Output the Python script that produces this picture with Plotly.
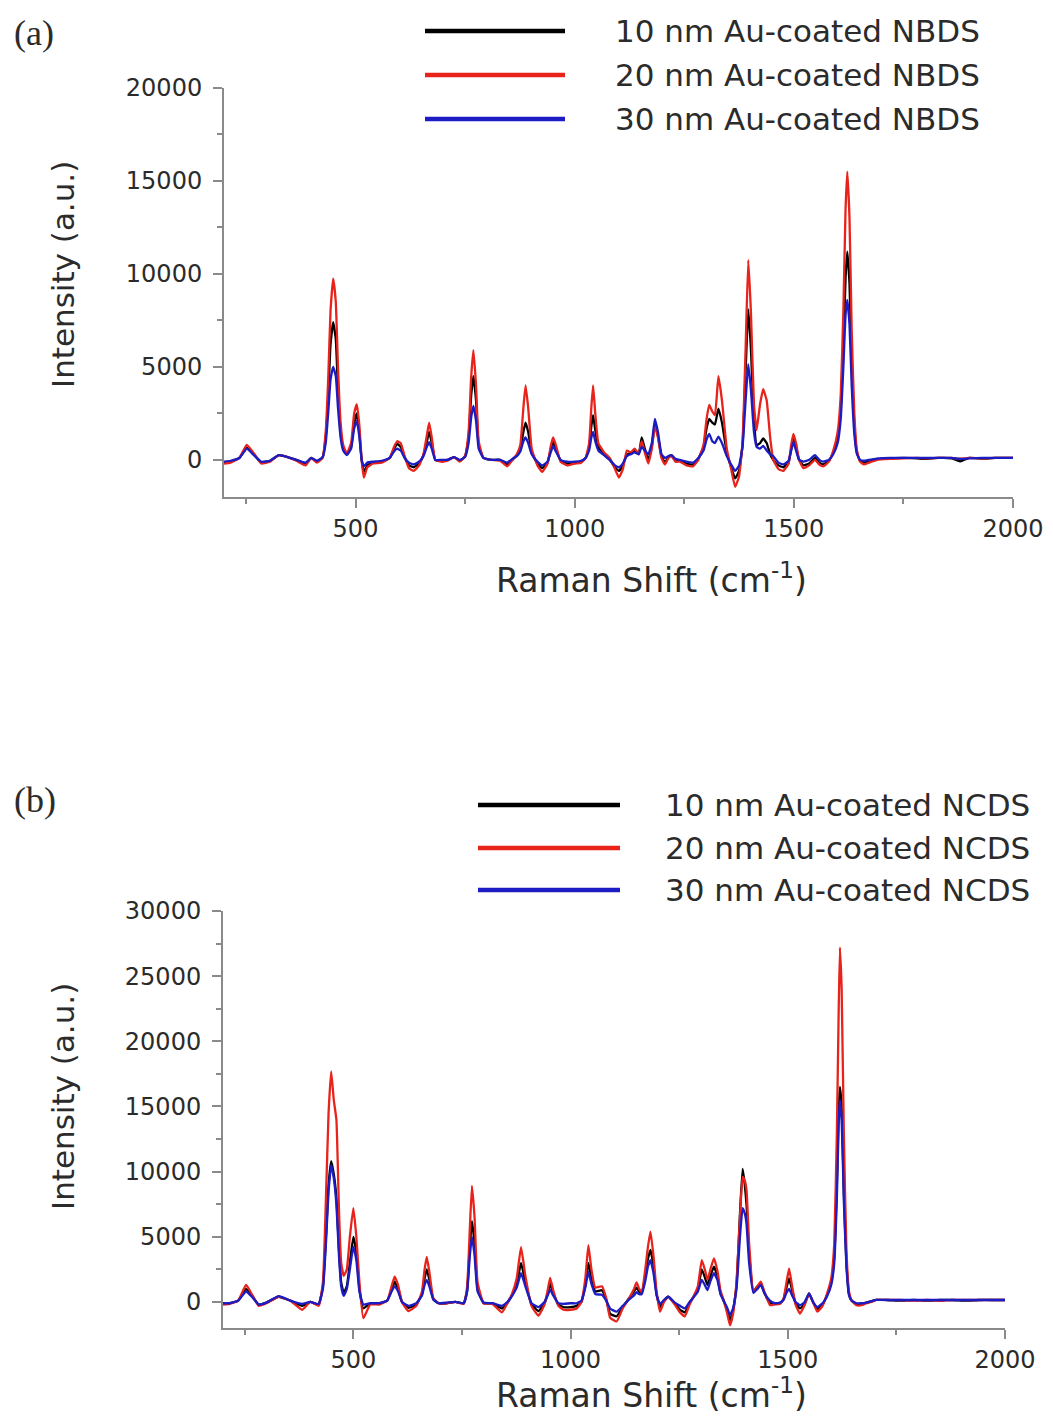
import plotly.graph_objects as go

# ---------------- Panel (a): Au-coated NBDS ----------------
shift_a = [200, 215, 235, 252, 268, 285, 305, 325, 345, 365,
           386, 399, 412, 425, 432, 438, 443, 449, 455, 460,
           466, 472, 480, 490, 497, 503, 509, 514, 519, 527,
           540, 560, 578, 588, 595, 603, 612, 622, 633, 645,
           655, 662, 668, 674, 682, 695, 710, 725, 738, 750,
           758, 764, 769, 775, 781, 792, 810, 830, 846, 858,
           868, 876, 883, 888, 894, 902, 915, 926, 938, 946,
           951, 957, 968, 983, 1000, 1015, 1025, 1033, 1038, 1042,
           1047, 1054, 1067, 1080, 1092, 1101, 1110, 1119, 1128, 1137,
           1146, 1153, 1160, 1168, 1176, 1183, 1190, 1198, 1206, 1214,
           1221, 1230, 1240, 1255, 1270, 1282, 1294, 1301, 1307, 1314,
           1320, 1328, 1336, 1347, 1357, 1366, 1375, 1383, 1390, 1396,
           1402, 1409, 1415, 1423, 1430, 1438, 1446, 1453, 1465, 1476,
           1488, 1494, 1499, 1505, 1512, 1522, 1535, 1548, 1558, 1567,
           1580, 1590, 1600, 1607, 1613, 1618, 1622, 1627, 1632, 1638,
           1644, 1651, 1660, 1672, 1690, 1720, 1750, 1780, 1800, 1830,
           1860, 1880, 1900, 1930, 1960, 2000]

nbds_10nm = [-150, -100, 100, 650, 300, -150, -50, 250, 150, 0,
             -200, 100, -100, 150, 1200, 3500, 6200, 7400, 6500, 3800,
             1500, 600, 300, 700, 2000, 2500, 1400, 0, -650, -300,
             -150, -100, 100, 600, 850, 700, 150, -300, -400, -200,
             250, 900, 1500, 900, 0, -50, 0, 150, -50, 200,
             1200, 3500, 4500, 3200, 800, 100, 0, 0, -250, 0,
             250, 600, 1500, 2000, 1500, 400, -200, -450, -150, 600,
             950, 600, -50, -200, -150, -100, 100, 700, 1800, 2400,
             1600, 700, 300, 0, -400, -600, -300, 300, 350, 500,
             300, 1200, 600, 0, 700, 1900, 1300, 200, -150, 150,
             250, 0, -50, -200, -250, 50, 700, 1700, 2200, 2000,
             1900, 2750, 2000, 400, -400, -1000, -600, 800, 4800, 8100,
             6000, 2200, 800, 900, 1150, 900, 300, 0, -300, -400,
             -150, 600, 1200, 700, 0, -300, -200, 100, -150, -250,
             -50, 400, 1200, 2800, 6000, 9800, 11200, 9500, 5200, 1800,
             400, -50, -150, -50, 50, 80, 100, 80, 50, 100,
             80, -80, 100, 60, 100, 100]

nbds_20nm = [-200, -150, 100, 800, 350, -200, -100, 250, 150, -50,
             -300, 100, -150, 100, 1500, 4500, 8000, 9750, 8500, 5000,
             2000, 800, 350, 900, 2500, 3000, 1800, 0, -950, -400,
             -200, -150, 100, 700, 1000, 900, 200, -450, -600, -300,
             300, 1200, 2000, 1200, 0, -100, -50, 150, -100, 200,
             1500, 4500, 5900, 4000, 1000, 100, 0, -50, -350, 0,
             300, 800, 2800, 4000, 2800, 600, -300, -650, -200, 800,
             1200, 800, -100, -300, -200, -150, 100, 900, 2800, 4000,
             2500, 900, 400, 100, -500, -950, -500, 500, 400, 600,
             300, 1000, 400, -200, 600, 1800, 1200, 100, -250, 100,
             200, -100, -100, -300, -350, 0, 800, 2200, 2950, 2600,
             2400, 4500, 3200, 600, -500, -1450, -900, 1000, 6000, 10750,
             8000, 3000, 1600, 3000, 3800, 3200, 1200, 0, -500, -600,
             -200, 800, 1400, 900, 0, -450, -300, 0, -250, -350,
             -100, 500, 1500, 3500, 8000, 13500, 15500, 13000, 7000, 2500,
             500, -100, -250, -150, 0, 50, 80, 100, 80, 100,
             100, 60, 100, 80, 100, 100]

nbds_30nm = [-100, -50, 100, 600, 250, -100, -50, 250, 150, 0,
             -150, 100, -50, 150, 900, 2600, 4300, 5000, 4500, 2800,
             1200, 500, 250, 600, 1700, 2100, 1200, 0, -350, -150,
             -100, -50, 100, 450, 600, 500, 100, -150, -250, -100,
             200, 650, 950, 600, 0, 0, 0, 150, 0, 150,
             900, 2300, 2900, 2100, 600, 100, 0, 0, -150, 50,
             200, 450, 1000, 1200, 900, 300, -100, -300, -100, 450,
             750, 450, 0, -100, -100, -50, 100, 500, 1200, 1500,
             1000, 500, 250, 0, -300, -400, -200, 200, 300, 400,
             300, 700, 500, 300, 900, 2200, 1500, 300, 100, 200,
             250, 50, 0, -100, -150, 100, 500, 1100, 1400, 1000,
             900, 1250, 900, 200, -250, -600, -300, 700, 3200, 5150,
             3800, 1500, 700, 600, 750, 500, 300, 200, -150, -250,
             -50, 500, 950, 500, 0, -100, 0, 250, 0, -100,
             0, 300, 900, 2200, 5000, 7800, 8600, 7300, 4000, 1400,
             300, 0, -50, 0, 60, 100, 100, 100, 100, 100,
             100, 50, 80, 100, 100, 100]

# ---------------- Panel (b): Au-coated NCDS ----------------
shift_b = [200, 215, 235, 253, 268, 282, 300, 328, 355, 382,
           401, 420, 430, 437, 443, 449, 455, 461, 467, 472,
           478, 485, 492, 500, 507, 514, 523, 539, 560, 578,
           588, 595, 603, 612, 627, 645, 658, 664, 669, 675,
           684, 696, 715, 735, 754, 762, 768, 773, 779, 786,
           800, 820, 842, 856, 865, 876, 886, 896, 910, 926,
           940, 948, 953, 960, 972, 984, 1000, 1014, 1025, 1034,
           1041, 1048, 1057, 1072, 1082, 1091, 1106, 1120, 1135, 1146,
           1152, 1158, 1164, 1172, 1178, 1184, 1191, 1198, 1206, 1215,
           1225, 1240, 1252, 1263, 1274, 1283, 1293, 1302, 1309, 1315,
           1322, 1330, 1338, 1345, 1352, 1360, 1367, 1374, 1382, 1390,
           1396, 1401, 1405, 1411, 1421, 1430, 1438, 1446, 1459, 1470,
           1482, 1490, 1497, 1503, 1510, 1518, 1528, 1538, 1549, 1558,
           1568, 1580, 1590, 1600, 1607, 1613, 1617, 1620, 1624, 1629,
           1635, 1641, 1647, 1658, 1670, 1681, 1692, 1704, 1730, 1760,
           1790, 1820, 1850, 1880, 1910, 1940, 1970, 2000]

ncds_10nm = [-150, -100, 100, 1000, 400, -200, -50, 400, 100, -300,
             0, -200, 1200, 5000, 9000, 10800, 9800, 8000, 4000, 1500,
             700, 1200, 3000, 5000, 3800, 1000, -500, -100, -100, 100,
             900, 1550, 1000, 0, -450, -200, 600, 1800, 2500, 1700,
             200, -100, -100, 0, -100, 900, 4200, 6200, 4500, 1000,
             -100, -100, -500, 0, 500, 1300, 3000, 1500, -150, -700,
             -100, 700, 1400, 700, -200, -400, -400, -300, 0, 1300,
             3000, 1800, 800, 900, 200, -900, -1100, -400, 300, 800,
             1100, 800, 700, 2000, 3300, 4000, 2700, 600, -400, 100,
             400, -100, -600, -800, -100, 400, 1000, 2500, 1900, 1300,
             2000, 2700, 2000, 700, 150, -600, -1400, -700, 1300, 6800,
             10200, 9000, 7500, 3800, 800, 1200, 1400, 700, -100, -150,
             -100, 200, 1100, 1800, 900, -100, -500, -200, 650, 0,
             -550, -200, 500, 1500, 3500, 9000, 14500, 16500, 15000, 8500,
             3000, 600, 100, -150, -150, -50, 50, 150, 150, 100,
             150, 100, 150, 150, 100, 150, 150, 150]

ncds_20nm = [-200, -150, 100, 1300, 500, -300, -100, 400, 100, -600,
             0, -300, 1500, 8000, 14500, 17700, 15500, 14000, 7000, 3000,
             2000, 2500, 5000, 7200, 5000, 1500, -1250, -200, -200, 100,
             1200, 1950, 1300, 0, -700, -300, 800, 2500, 3450, 2300,
             300, -100, -100, 0, -150, 1200, 5500, 8900, 6500, 1500,
             -100, -150, -800, 0, 600, 1800, 4200, 2000, -300, -1050,
             -200, 1000, 1850, 900, -300, -600, -600, -500, 0, 1800,
             4350, 2500, 1100, 1200, 300, -1200, -1500, -500, 300, 1000,
             1500, 1000, 750, 2500, 4200, 5400, 3500, 800, -750, 0,
             400, -200, -800, -1100, -200, 400, 1200, 3200, 2500, 1700,
             2500, 3350, 2400, 900, 150, -800, -1800, -900, 1500, 6500,
             9600, 9300, 8600, 4500, 800, 1200, 1550, 800, -250, -200,
             -150, 200, 1500, 2550, 1200, -200, -900, -300, 650, 0,
             -750, -300, 600, 1800, 4500, 13000, 22000, 27200, 24000, 13000,
             4000, 800, 100, -250, -250, -100, 0, 150, 150, 150,
             100, 150, 80, 150, 150, 150, 150, 150]

ncds_30nm = [-100, -100, 100, 800, 350, -200, -50, 450, 100, -150,
             0, -150, 1000, 4500, 8500, 10500, 9500, 7500, 3500, 1200,
             460, 1000, 2500, 4250, 3200, 800, -200, -100, -100, 100,
             800, 1200, 800, 0, -300, -100, 500, 1300, 1700, 1200,
             200, -100, -50, 0, -100, 800, 3500, 5000, 3600, 800,
             -50, -100, -300, 50, 450, 1100, 2200, 1200, -100, -400,
             0, 550, 950, 500, -100, -150, -100, -100, 100, 1100,
             2300, 1400, 600, 550, 100, -500, -750, -300, 200, 500,
             750, 600, 600, 1600, 2700, 3200, 2200, 500, -150, 150,
             400, -50, -300, -500, 0, 350, 800, 1700, 1300, 900,
             1600, 2200, 1700, 600, 100, -400, -1000, -500, 1000, 5000,
             7200, 6800, 6000, 3000, 700, 1000, 1300, 700, 100, -100,
             -50, 150, 700, 1000, 500, 0, -250, -50, 650, 0,
             -400, -100, 400, 1300, 3000, 8000, 13500, 15500, 14000, 7800,
             2700, 500, 100, -100, -100, -50, 50, 150, 150, 150,
             150, 150, 150, 150, 150, 150, 150, 150]

labels_a = ["10 nm Au-coated NBDS", "20 nm Au-coated NBDS", "30 nm Au-coated NBDS"]
labels_b = ["10 nm Au-coated NCDS", "20 nm Au-coated NCDS", "30 nm Au-coated NCDS"]
colors = ["#000000", "#e8231b", "#1c1cc4"]

for s in (nbds_10nm, nbds_20nm, nbds_30nm):
    assert len(s) == len(shift_a)
for s in (ncds_10nm, ncds_20nm, ncds_30nm):
    assert len(s) == len(shift_b)

W, H = 1053, 1419
FONT = "DejaVu Sans"
AXIS_GRAY = "#8a8a8a"
TEXT = "#2b2b2b"

fig = go.Figure()

for i, (lab, ys) in enumerate(zip(labels_a, (nbds_10nm, nbds_20nm, nbds_30nm))):
    fig.add_trace(go.Scatter(
        x=shift_a, y=ys, mode="lines", name=lab, showlegend=False,
        line=dict(color=colors[i], width=2.3, shape="spline", smoothing=0.4),
        xaxis="x", yaxis="y"))

for i, (lab, ys) in enumerate(zip(labels_b, (ncds_10nm, ncds_20nm, ncds_30nm))):
    fig.add_trace(go.Scatter(
        x=shift_b, y=ys, mode="lines", name=lab, showlegend=False,
        line=dict(color=colors[i], width=2.3, shape="spline", smoothing=0.4),
        xaxis="x2", yaxis="y2"))


def xaxis_style(domain, anchor):
    return dict(
        domain=domain, anchor=anchor, range=[200, 2000], automargin=False,
        tickmode="linear", tick0=0, dtick=500,
        ticks="outside", ticklen=9, tickwidth=2, tickcolor=AXIS_GRAY,
        minor=dict(dtick=250, ticks="outside", ticklen=5, tickwidth=2,
                   tickcolor=AXIS_GRAY, showgrid=False),
        showline=True, linecolor=AXIS_GRAY, linewidth=2,
        showgrid=False, zeroline=False,
        tickfont=dict(family=FONT, size=24, color=TEXT),
    )


def yaxis_style(domain, anchor, top):
    return dict(
        domain=domain, anchor=anchor, range=[-2000, top], automargin=False,
        tickmode="linear", tick0=0, dtick=5000,
        ticks="outside", ticklen=9, tickwidth=2, tickcolor=AXIS_GRAY,
        minor=dict(dtick=2500, ticks="outside", ticklen=5, tickwidth=2,
                   tickcolor=AXIS_GRAY, showgrid=False),
        showline=True, linecolor=AXIS_GRAY, linewidth=2,
        showgrid=False, zeroline=False, tickformat="d",
        ticklabelstandoff=6,
        tickfont=dict(family=FONT, size=24, color=TEXT),
    )


fig.update_layout(
    width=W, height=H,
    margin=dict(l=0, r=0, t=0, b=0, autoexpand=False),
    paper_bgcolor="white", plot_bgcolor="white",
    showlegend=False,
    xaxis=xaxis_style([224 / W, 1013 / W], "y"),
    yaxis=yaxis_style([1 - 497 / H, 1 - 88 / H], "x", 20000),
    xaxis2=xaxis_style([223 / W, 1005 / W], "y2"),
    yaxis2=yaxis_style([1 - 1328 / H, 1 - 911 / H], "x2", 30000),
)

# Key for each panel: a thick line sample followed by the series name
key_font = dict(family=FONT, size=31, color=TEXT)
shapes = []
annotations = []
key_rows = [
    (labels_a, 425, 565, 613, [31, 75, 119]),
    (labels_b, 478, 620, 663, [805, 848, 890]),
]
for labels, x0, x1, xt, rows in key_rows:
    for i, (lab, yr) in enumerate(zip(labels, rows)):
        shapes.append(dict(type="line", xref="paper", yref="paper",
                           x0=x0 / W, x1=x1 / W, y0=1 - yr / H, y1=1 - yr / H,
                           line=dict(color=colors[i], width=4.5)))
        annotations.append(dict(text=lab, x=xt / W, y=1 - yr / H,
                                xanchor="left", yanchor="middle", font=key_font))

serif = dict(family="Liberation Serif", size=36, color=TEXT)
title_font = dict(family=FONT, size=33, color=TEXT)
annotations += [
    dict(text="(a)", x=34 / W, y=1 - 33 / H, font=serif),
    dict(text="(b)", x=35 / W, y=1 - 800 / H, font=serif),
    dict(text="Intensity (a.u.)", x=63 / W, y=1 - 275 / H, textangle=-90,
         font=dict(family=FONT, size=31, color=TEXT)),
    dict(text="Intensity (a.u.)", x=63 / W, y=1 - 1097 / H, textangle=-90,
         font=dict(family=FONT, size=31, color=TEXT)),
    dict(text="Raman Shift (cm<sup>-1</sup>)", x=651 / W, y=1 - 578 / H, font=title_font),
    dict(text="Raman Shift (cm<sup>-1</sup>)", x=651 / W, y=1 - 1393 / H, font=title_font),
]
for a in annotations:
    a.setdefault("xanchor", "center")
    a.setdefault("yanchor", "middle")
    a.update(xref="paper", yref="paper", showarrow=False)

fig.update_layout(shapes=shapes, annotations=annotations)

fig.write_html("out.html")
